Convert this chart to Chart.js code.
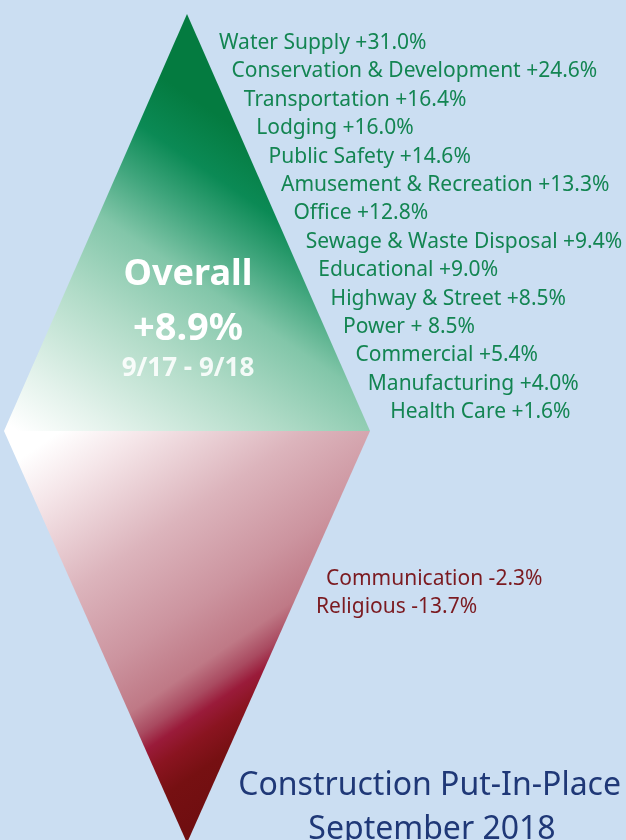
<!DOCTYPE html>
<html>
<head>
<meta charset="utf-8">
<script src="https://cdn.jsdelivr.net/npm/chart.js@4.4.0/dist/chart.umd.min.js"></script>
<style>
  html, body { margin: 0; padding: 0; background: #cbdef2; overflow: hidden; }
  canvas { display: block; }
</style>
</head>
<body>
<canvas id="myChart" width="626" height="840"></canvas>
<script>
// sectors with growth, top to bottom
const gainNames = ['Water Supply', 'Conservation & Development', 'Transportation', 'Lodging',
  'Public Safety', 'Amusement & Recreation', 'Office', 'Sewage & Waste Disposal', 'Educational',
  'Highway & Street', 'Power', 'Commercial', 'Manufacturing', 'Health Care'];
const gainValues = [31.0, 24.6, 16.4, 16.0, 14.6, 13.3, 12.8, 9.4, 9.0, 8.5, 8.5, 5.4, 4.0, 1.6];

// sectors with decline
const lossNames = ['Communication', 'Religious'];
const lossValues = [-2.3, -13.7];

const overallValue = 8.9;
const periodLabel = '9/17 - 9/18';
const titleLines = ['Construction Put-In-Place', 'September 2018'];

// layout: y axis is in "rows", one label per row
const ROW_PX = 28.4, FIRST_PX = 43, H = 840, W = 626;
const pxToRow = p => (p - FIRST_PX) / ROW_PX;
const apexRow = pxToRow(14), midRow = pxToRow(431), bottomRow = pxToRow(843);
const lossFirstRow = 18.87;

function fmt(name, v) {
  const sign = v >= 0 ? '+' : '-';
  const gap = name === 'Power' ? ' ' : '';
  return name + ' ' + sign + gap + Math.abs(v).toFixed(1) + '%';
}

// labels step right along the edge (last one sits a bit further out)
const gainPoints = gainValues.map((v, i) => ({ x: 219 + 12.4 * i + (i === gainValues.length - 1 ? 10 : 0), y: i }));
const lossPoints = lossValues.map((v, i) => ({ x: 326 - 10 * i, y: lossFirstRow + i * 0.99 }));

function topGradient(ctx) {
  const chart = ctx.chart;
  if (!chart.chartArea) return '#8fcbb0';
  const xs = chart.scales.x, ys = chart.scales.y;
  const g = chart.ctx.createLinearGradient(xs.getPixelForValue(30), ys.getPixelForValue(midRow + 0.3),
    xs.getPixelForValue(240), ys.getPixelForValue(pxToRow(130)));
  g.addColorStop(0, '#ffffff');
  g.addColorStop(0.15, '#e3f2eb');
  g.addColorStop(0.4, '#b0dbc7');
  g.addColorStop(0.6, '#82c6a9');
  g.addColorStop(0.74, '#3fa57c');
  g.addColorStop(0.86, '#0b8a55');
  g.addColorStop(1, '#047b40');
  return g;
}

function bottomGradient(ctx) {
  const chart = ctx.chart;
  if (!chart.chartArea) return '#d09aa6';
  const xs = chart.scales.x, ys = chart.scales.y;
  const g = chart.ctx.createLinearGradient(xs.getPixelForValue(40), ys.getPixelForValue(pxToRow(445)),
    xs.getPixelForValue(265), ys.getPixelForValue(pxToRow(775)));
  g.addColorStop(0, '#ffffff');
  g.addColorStop(0.12, '#f5e6e9');
  g.addColorStop(0.35, '#dcb4bc');
  g.addColorStop(0.55, '#cc949f');
  g.addColorStop(0.68, '#bf7986');
  g.addColorStop(0.74, '#a94a60');
  g.addColorStop(0.78, '#9a1b3a');
  g.addColorStop(0.83, '#8a1420');
  g.addColorStop(0.9, '#761012');
  g.addColorStop(1, '#700e10');
  return g;
}

const textPlugin = {
  id: 'texts',
  afterDatasetsDraw(chart) {
    const c = chart.ctx, xs = chart.scales.x, ys = chart.scales.y;
    c.save();
    c.textBaseline = 'middle';
    c.textAlign = 'left';
    chart.data.datasets.forEach((ds, di) => {
      if (!ds.texts) return;
      const meta = chart.getDatasetMeta(di);
      c.fillStyle = ds.textColor;
      c.font = '21px "Noto Sans"';
      meta.data.forEach((pt, i) => c.fillText(ds.texts[i], pt.x, pt.y));
    });

    // overall figure inside the diamond
    const cx = xs.getPixelForValue(188);
    c.textAlign = 'center';
    c.fillStyle = '#ffffff';
    c.font = 'bold 36px "Noto Sans"';
    c.fillText('Overall', cx, ys.getPixelForValue(pxToRow(275)));
    c.font = 'bold 38px "Noto Sans"';
    c.fillText('+' + overallValue.toFixed(1) + '%', cx, ys.getPixelForValue(pxToRow(329)));
    c.fillStyle = 'rgba(255,255,255,0.88)';
    c.font = 'bold 26px "Noto Sans"';
    c.fillText(periodLabel, cx, ys.getPixelForValue(pxToRow(369)));

    // title
    c.fillStyle = '#1f3877';
    c.font = '32px "Noto Sans"';
    c.textAlign = 'right';
    c.fillText(titleLines[0], W - 5, 786);
    c.textAlign = 'center';
    c.fillText(titleLines[1], 432, 830);
    c.restore();
  }
};

const config = {
  type: 'line',
  data: {
    datasets: [
      {
        data: [{ x: 4, y: midRow }, { x: 187, y: apexRow }, { x: 370, y: midRow }],
        fill: { value: midRow },
        backgroundColor: topGradient,
        borderWidth: 0,
        pointRadius: 0,
        tension: 0
      },
      {
        data: [{ x: 4, y: midRow }, { x: 187, y: bottomRow }, { x: 370, y: midRow }],
        fill: { value: midRow },
        backgroundColor: bottomGradient,
        borderWidth: 0,
        pointRadius: 0,
        tension: 0
      },
      {
        data: gainPoints,
        showLine: false,
        pointRadius: 0,
        texts: gainNames.map((n, i) => fmt(n, gainValues[i])),
        textColor: '#138552'
      },
      {
        data: lossPoints,
        showLine: false,
        pointRadius: 0,
        texts: lossNames.map((n, i) => fmt(n, lossValues[i])),
        textColor: '#7b1a20'
      }
    ]
  },
  options: {
    responsive: false,
    animation: false,
    layout: { padding: 0 },
    plugins: { legend: { display: false }, tooltip: { enabled: false } },
    scales: {
      x: { type: 'linear', min: 0, max: W, display: false },
      y: { type: 'linear', min: pxToRow(0), max: pxToRow(H), reverse: true, display: false }
    }
  },
  plugins: [textPlugin]
};

const myChart = new Chart(document.getElementById('myChart'), config);
</script>
</body>
</html>
